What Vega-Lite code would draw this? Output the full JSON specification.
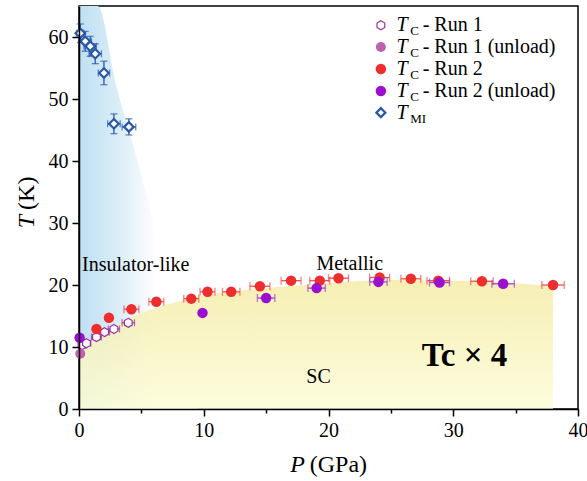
{
  "$schema": "https://vega.github.io/schema/vega-lite/v6.json",
  "width": 499,
  "height": 403,
  "autosize": {"type": "none"},
  "padding": {"left": 79, "top": 6, "right": 9, "bottom": 72},
  "background": "white",
  "view": {"stroke": "black", "strokeWidth": 1.5},
  "config": {
    "font": "Liberation Serif, serif",
    "view": {"stroke": "black", "strokeWidth": 1.5},
    "text": {"font": "Liberation Serif, serif"},
    "axis": {"grid": false, "domainColor": "black", "domainWidth": 1.5, "tickColor": "black", "tickWidth": 1.5, "labelFont": "Liberation Serif, serif", "labelFontSize": 20, "labelColor": "black"}
  },
  "datasets": {
    "one": [{"k": 1}],
    "blue": [
      {"P": 0, "T": 65}, {"P": 1.5, "T": 65}, {"P": 3.0, "T": 52}, {"P": 4.7, "T": 40}, {"P": 6.0, "T": 30}, {"P": 7.3, "T": 20}, {"P": 8.6, "T": 10}, {"P": 9.5, "T": 0}
    ],
    "yellow": [
      {"P": 0, "T": 9.5}, {"P": 1, "T": 11.2}, {"P": 2, "T": 12.5}, {"P": 3.5, "T": 14.2}, {"P": 5, "T": 15.5}, {"P": 7.5, "T": 17.1}, {"P": 10, "T": 18.3}, {"P": 15, "T": 19.5}, {"P": 20, "T": 20.3}, {"P": 25, "T": 20.8}, {"P": 30, "T": 20.7}, {"P": 35, "T": 20.3}, {"P": 38, "T": 19.8}
    ],
    "run1": [
      {"P": 0.25, "T": 10.3, "xerr": 0.3}, {"P": 0.6, "T": 10.6, "xerr": 0.35}, {"P": 1.4, "T": 11.6, "xerr": 0.4}, {"P": 2.05, "T": 12.4, "xerr": 0.4}, {"P": 2.8, "T": 12.9, "xerr": 0.45}, {"P": 3.95, "T": 13.9, "xerr": 0.5}
    ],
    "run1u": [
      {"P": 0.1, "T": 8.9}
    ],
    "run2": [
      {"P": 1.4, "T": 12.9, "xerr": 0}, {"P": 2.4, "T": 14.7, "xerr": 0}, {"P": 4.2, "T": 16.1, "xerr": 0.6}, {"P": 6.2, "T": 17.3, "xerr": 0.6}, {"P": 9.0, "T": 17.8, "xerr": 0.6}, {"P": 10.3, "T": 18.9, "xerr": 0.6}, {"P": 12.2, "T": 18.9, "xerr": 0.7}, {"P": 14.5, "T": 19.8, "xerr": 0.8}, {"P": 17.0, "T": 20.7, "xerr": 0.8}, {"P": 19.3, "T": 20.7, "xerr": 0.8}, {"P": 20.8, "T": 21.1, "xerr": 0.8}, {"P": 24.1, "T": 21.2, "xerr": 0.8}, {"P": 26.6, "T": 21.0, "xerr": 0.8}, {"P": 28.8, "T": 20.7, "xerr": 0.9}, {"P": 32.3, "T": 20.6, "xerr": 0.9}, {"P": 38.0, "T": 20.0, "xerr": 0.9}
    ],
    "run2u": [
      {"P": 0.05, "T": 11.5, "xerr": 0}, {"P": 9.9, "T": 15.5, "xerr": 0}, {"P": 15.0, "T": 17.9, "xerr": 0.7}, {"P": 19.05, "T": 19.5, "xerr": 0.7}, {"P": 24.0, "T": 20.5, "xerr": 0.7}, {"P": 28.9, "T": 20.4, "xerr": 0.8}, {"P": 34.0, "T": 20.2, "xerr": 0.9}
    ],
    "tmi": [
      {"P": 0.1, "T": 60.6, "xerr": 0.3, "yerr": 1.5}, {"P": 0.5, "T": 59.3, "xerr": 0.5, "yerr": 1.6}, {"P": 0.9, "T": 58.5, "xerr": 0.5, "yerr": 1.6}, {"P": 1.3, "T": 57.3, "xerr": 0.5, "yerr": 1.6}, {"P": 2.0, "T": 54.2, "xerr": 0.45, "yerr": 1.9}, {"P": 2.8, "T": 46.0, "xerr": 0.5, "yerr": 1.6}, {"P": 4.0, "T": 45.5, "xerr": 0.55, "yerr": 1.3}
    ]
  },
  "layer": [
    {
      "data": {"name": "blue"},
      "mark": {"type": "area", "interpolate": "monotone", "color": {"gradient": "linear", "x1": 0, "y1": 0, "x2": 1, "y2": 0, "stops": [{"offset": 0, "color": "#bfdff2"}, {"offset": 0.35, "color": "#dceef8"}, {"offset": 0.65, "color": "#ffffff"}, {"offset": 1, "color": "#ffffff"}]}},
      "encoding": {
        "x": {"field": "P", "type": "quantitative", "scale": {"domain": [0, 40], "nice": false}, "axis": {"title": null, "zindex": 1, "values": [0, 5, 10, 15, 20, 25, 30, 35, 40], "labelExpr": "datum.value % 10 === 0 ? datum.label : ''", "tickSize": {"condition": {"test": "datum.value % 10 === 0", "value": 7}, "value": 4}, "labelPadding": 4, "labelFlush": false, "labelFont": "Liberation Serif, serif", "labelFontSize": 20, "labelColor": "black", "domainColor": "black", "domainWidth": 1.5, "tickColor": "black", "tickWidth": 1.5, "grid": false}},
        "y": {"field": "T", "type": "quantitative", "scale": {"domain": [0, 65], "nice": false}, "axis": {"title": null, "zindex": 1, "values": [0, 5, 10, 15, 20, 25, 30, 35, 40, 45, 50, 55, 60, 65], "labelExpr": "datum.value % 10 === 0 ? datum.label : ''", "tickSize": {"condition": {"test": "datum.value % 10 === 0", "value": 7}, "value": 4}, "labelPadding": 4, "labelFlush": false, "labelFont": "Liberation Serif, serif", "labelFontSize": 20, "labelColor": "black", "domainColor": "black", "domainWidth": 1.5, "tickColor": "black", "tickWidth": 1.5, "grid": false}},
        "y2": {"datum": 0}
      }
    },
    {
      "data": {"name": "yellow"},
      "mark": {"type": "area", "interpolate": "monotone", "opacity": 0.85, "color": {"gradient": "linear", "x1": 0, "y1": 0, "x2": 0, "y2": 1, "stops": [{"offset": 0, "color": "#f4eba6"}, {"offset": 1, "color": "#fdfdd8"}]}},
      "encoding": {
        "x": {"field": "P", "type": "quantitative"},
        "y": {"field": "T", "type": "quantitative"},
        "y2": {"datum": 0}
      }
    },
    {
      "data": {"name": "one"},
      "mark": {"type": "text", "align": "left", "baseline": "middle", "fontSize": 20, "font": "Liberation Serif, serif", "color": "black"},
      "encoding": {"x": {"datum": 0.25}, "y": {"datum": 23.2}, "text": {"value": "Insulator-like"}}
    },
    {
      "data": {"name": "one"},
      "mark": {"type": "text", "align": "center", "baseline": "middle", "fontSize": 20, "font": "Liberation Serif, serif", "color": "black"},
      "encoding": {"x": {"datum": 21.7}, "y": {"datum": 23.4}, "text": {"value": "Metallic"}}
    },
    {
      "data": {"name": "one"},
      "mark": {"type": "text", "align": "center", "baseline": "middle", "fontSize": 20, "font": "Liberation Serif, serif", "color": "black"},
      "encoding": {"x": {"datum": 19.2}, "y": {"datum": 5.2}, "text": {"value": "SC"}}
    },
    {
      "data": {"name": "one"},
      "mark": {"type": "text", "align": "center", "baseline": "middle", "fontSize": 33, "fontWeight": "bold", "font": "Liberation Serif, serif", "color": "black"},
      "encoding": {"x": {"datum": 30.9}, "y": {"datum": 8.6}, "text": {"value": "Tc × 4"}}
    },
    {
      "data": {"name": "tmi"},
      "mark": {"type": "errorbar", "ticks": true, "color": "#2a58a8", "thickness": 1.3, "size": 7},
      "encoding": {"x": {"field": "P", "type": "quantitative"}, "xError": {"field": "xerr"}, "y": {"field": "T", "type": "quantitative"}}
    },
    {
      "data": {"name": "tmi"},
      "mark": {"type": "errorbar", "ticks": true, "color": "#2a58a8", "thickness": 1.3, "size": 7},
      "encoding": {"y": {"field": "T", "type": "quantitative"}, "yError": {"field": "yerr"}, "x": {"field": "P", "type": "quantitative"}}
    },
    {
      "data": {"name": "tmi"},
      "mark": {"type": "point", "shape": "diamond", "filled": true, "fill": "white", "stroke": "#2a58a8", "strokeWidth": 2.2, "size": 90, "opacity": 1},
      "encoding": {"x": {"field": "P", "type": "quantitative"}, "y": {"field": "T", "type": "quantitative"}}
    },
    {
      "data": {"name": "run1"},
      "mark": {"type": "errorbar", "ticks": true, "color": "#9a30a8", "thickness": 1.2, "size": 7},
      "encoding": {"x": {"field": "P", "type": "quantitative"}, "xError": {"field": "xerr"}, "y": {"field": "T", "type": "quantitative"}}
    },
    {
      "data": {"name": "run1"},
      "mark": {"type": "point", "shape": "M0,-1L0.866,-0.5L0.866,0.5L0,1L-0.866,0.5L-0.866,-0.5Z", "filled": true, "fill": "white", "stroke": "#9a30a8", "strokeWidth": 1.2, "size": 80, "opacity": 1},
      "encoding": {"x": {"field": "P", "type": "quantitative"}, "y": {"field": "T", "type": "quantitative"}}
    },
    {
      "data": {"name": "run1u"},
      "mark": {"type": "point", "shape": "circle", "filled": true, "color": "#c060b0", "size": 100, "opacity": 1},
      "encoding": {"x": {"field": "P", "type": "quantitative"}, "y": {"field": "T", "type": "quantitative"}}
    },
    {
      "data": {"name": "run2"},
      "mark": {"type": "errorbar", "ticks": true, "color": "#f05050", "thickness": 1.3, "size": 8},
      "encoding": {"x": {"field": "P", "type": "quantitative"}, "xError": {"field": "xerr"}, "y": {"field": "T", "type": "quantitative"}}
    },
    {
      "data": {"name": "run2"},
      "mark": {"type": "point", "shape": "circle", "filled": true, "color": "#ee2d2d", "size": 110, "opacity": 1},
      "encoding": {"x": {"field": "P", "type": "quantitative"}, "y": {"field": "T", "type": "quantitative"}}
    },
    {
      "data": {"name": "run2u"},
      "mark": {"type": "errorbar", "ticks": true, "color": "#a040d8", "thickness": 1.3, "size": 8},
      "encoding": {"x": {"field": "P", "type": "quantitative"}, "xError": {"field": "xerr"}, "y": {"field": "T", "type": "quantitative"}}
    },
    {
      "data": {"name": "run2u"},
      "mark": {"type": "point", "shape": "circle", "filled": true, "color": "#9b0fd0", "size": 110, "opacity": 1},
      "encoding": {"x": {"field": "P", "type": "quantitative"}, "y": {"field": "T", "type": "quantitative"}}
    },
    {
      "data": {"name": "one"},
      "mark": {"type": "text", "align": "right", "baseline": "middle", "fontSize": 24, "fontStyle": "italic", "font": "Liberation Serif, serif", "color": "black"},
      "encoding": {"x": {"datum": 18.1}, "y": {"datum": -9.0}, "text": {"value": "P"}}
    },
    {
      "data": {"name": "one"},
      "mark": {"type": "text", "align": "left", "baseline": "middle", "fontSize": 24, "font": "Liberation Serif, serif", "color": "black", "dx": 5},
      "encoding": {"x": {"datum": 18.1}, "y": {"datum": -9.0}, "text": {"value": "(GPa)"}}
    },
    {
      "data": {"name": "one"},
      "mark": {"type": "text", "align": "right", "baseline": "middle", "angle": 270, "fontSize": 24, "fontStyle": "italic", "font": "Liberation Serif, serif", "color": "black"},
      "encoding": {"x": {"datum": -4.2}, "y": {"datum": 31.3}, "text": {"value": "T"}}
    },
    {
      "data": {"name": "one"},
      "mark": {"type": "text", "align": "left", "baseline": "middle", "angle": 270, "fontSize": 24, "font": "Liberation Serif, serif", "color": "black", "dx": 5},
      "encoding": {"x": {"datum": -4.2}, "y": {"datum": 31.3}, "text": {"value": "(K)"}}
    },
    {
      "data": {"name": "one"},
      "mark": {"type": "point", "shape": "M0,-1L0.866,-0.5L0.866,0.5L0,1L-0.866,0.5L-0.866,-0.5Z", "filled": true, "fill": "white", "stroke": "#9a30a8", "strokeWidth": 1.2, "size": 80, "opacity": 1},
      "encoding": {"x": {"datum": 24.2}, "y": {"datum": 61.9}}
    },
    {
      "data": {"name": "one"},
      "mark": {"type": "point", "shape": "circle", "filled": true, "color": "#c060b0", "size": 100, "opacity": 1},
      "encoding": {"x": {"datum": 24.2}, "y": {"datum": 58.4}}
    },
    {
      "data": {"name": "one"},
      "mark": {"type": "point", "shape": "circle", "filled": true, "color": "#ee2d2d", "size": 110, "opacity": 1},
      "encoding": {"x": {"datum": 24.2}, "y": {"datum": 54.85}}
    },
    {
      "data": {"name": "one"},
      "mark": {"type": "point", "shape": "circle", "filled": true, "color": "#9b0fd0", "size": 110, "opacity": 1},
      "encoding": {"x": {"datum": 24.2}, "y": {"datum": 51.3}}
    },
    {
      "data": {"name": "one"},
      "mark": {"type": "point", "shape": "diamond", "filled": true, "fill": "white", "stroke": "#2a58a8", "strokeWidth": 2.2, "size": 80, "opacity": 1},
      "encoding": {"x": {"datum": 24.2}, "y": {"datum": 47.8}}
    },
    {
      "data": {"values": [{"row": 61.9}, {"row": 58.4}, {"row": 54.85}, {"row": 51.3}, {"row": 47.8}]},
      "mark": {"type": "text", "align": "left", "baseline": "middle", "fontSize": 20, "fontStyle": "italic", "font": "Liberation Serif, serif", "color": "black"},
      "encoding": {"x": {"datum": 25.45}, "y": {"field": "row", "type": "quantitative"}, "text": {"value": "T"}}
    },
    {
      "data": {"values": [{"row": 61.9}, {"row": 58.4}, {"row": 54.85}, {"row": 51.3}]},
      "mark": {"type": "text", "align": "left", "baseline": "middle", "fontSize": 13, "font": "Liberation Serif, serif", "color": "black", "dy": 6},
      "encoding": {"x": {"datum": 26.55}, "y": {"field": "row", "type": "quantitative"}, "text": {"value": "C"}}
    },
    {
      "data": {"name": "one"},
      "mark": {"type": "text", "align": "left", "baseline": "middle", "fontSize": 13, "font": "Liberation Serif, serif", "color": "black", "dy": 6},
      "encoding": {"x": {"datum": 26.55}, "y": {"datum": 47.8}, "text": {"value": "MI"}}
    },
    {
      "data": {"values": [{"row": 61.9, "label": "- Run 1"}, {"row": 58.4, "label": "- Run 1 (unload)"}, {"row": 54.85, "label": "- Run 2"}, {"row": 51.3, "label": "- Run 2 (unload)"}]},
      "mark": {"type": "text", "align": "left", "baseline": "middle", "fontSize": 20, "font": "Liberation Serif, serif", "color": "black"},
      "encoding": {"x": {"datum": 27.55}, "y": {"field": "row", "type": "quantitative"}, "text": {"field": "label"}}
    }
  ]
}
